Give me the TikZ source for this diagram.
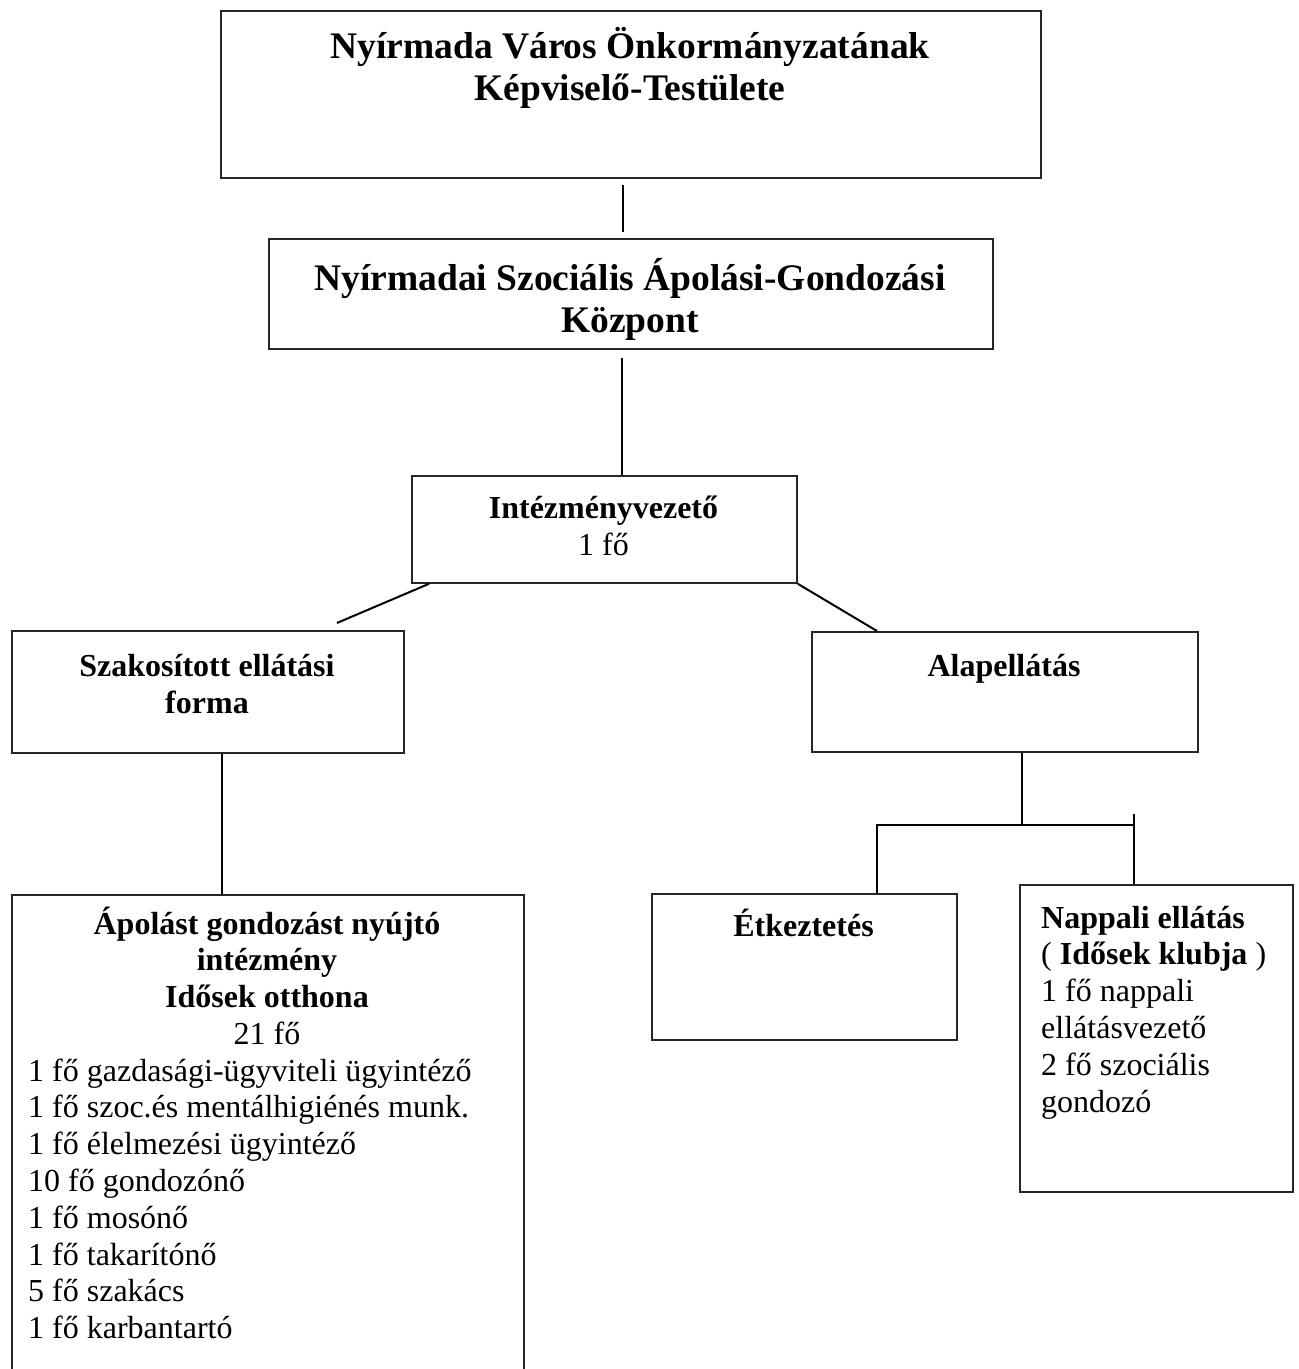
\documentclass[tikz,border=0pt]{standalone}
\usepackage{fontspec}
\setmainfont{Liberation Serif}
\usetikzlibrary{calc}
\begin{document}
\begin{tikzpicture}[x=1pt,y=-1pt,
  box/.style={draw=black!85, line width=1.8pt, inner sep=0pt, anchor=north west},
  conn/.style={draw=black, line width=2pt},
  big/.style={font=\bfseries\fontsize{37.5}{42}\selectfont, inner sep=0pt},
  txt/.style={font=\fontsize{32}{36.8}\selectfont, inner sep=0pt},
  bt/.style={font=\bfseries\fontsize{32}{36.8}\selectfont, inner sep=0pt}]
\useasboundingbox[fill=white] (0,0) rectangle (1299,1369);

% boxes
\node[box, minimum width=820pt, minimum height=167pt] (top) at (220,10) {};
\node[box, minimum width=724pt, minimum height=110pt] (szgk) at (268,238) {};
\node[box, minimum width=385pt, minimum height=107pt] (iv) at (411,475) {};
\node[box, minimum width=392pt, minimum height=122pt] (szak) at (11,630) {};
\node[box, minimum width=386pt, minimum height=120pt] (alap) at (811,631) {};
\node[box, minimum width=512pt, minimum height=490pt] (apol) at (11,894) {};
\node[box, minimum width=305pt, minimum height=146pt] (etk) at (651,893) {};
\node[box, minimum width=273pt, minimum height=307pt] (napp) at (1019,884) {};

% texts (anchor base = baseline of the last line)
\node[big, anchor=base, align=center] (topt) at (630,100)
  {Nyírmada Város Önkormányzatának\\Képviselő-Testülete};
\node[big, anchor=base, align=center] (szgkt) at (630,332)
  {Nyírmadai Szociális Ápolási-Gondozási\\Központ};
\node[txt, anchor=base, align=center] (ivt) at (603.5,555)
  {\textbf{Intézményvezető}\\1 fő};
\node[bt, anchor=base, align=center] (szakt) at (207,713)
  {Szakosított ellátási\\forma};
\node[bt, anchor=base, align=center] (alapt) at (1004,676) {Alapellátás};
\node[bt, anchor=base, align=center] (etkt) at (803.5,936) {Étkeztetés};
\node[txt, anchor=base, align=center] (apolt) at (267,1044.4)
  {\textbf{Ápolást gondozást nyújtó}\\\textbf{intézmény}\\\textbf{Idősek otthona}\\21 fő};
\node[txt, anchor=base west, align=left] (apoll) at (28,1338.6)
  {1 fő gazdasági-ügyviteli ügyintéző\\1 fő szoc.és mentálhigiénés munk.\\1 fő élelmezési ügyintéző\\10 fő gondozónő\\1 fő mosónő\\1 fő takarítónő\\5 fő szakács\\1 fő karbantartó};
\node[txt, anchor=base west, align=left] (nappt) at (1041,1112)
  {\textbf{Nappali ellátás}\\( \textbf{Idősek klubja} )\\1 fő nappali\\ellátásvezető\\2 fő szociális\\gondozó};

% connectors
\coordinate (a1) at ($(top.south)+(-8,6)$);
\coordinate (a2) at ($(szgk.north)+(-8,-6)$);
\draw[conn] (a1) -- (a2);
\coordinate (b1) at ($(szgk.south)+(-9,8)$);
\coordinate (b2) at (b1 |- iv.north);
\draw[conn] (b1) -- (b2);
\draw[conn] ($(iv.south west)+(18,0)$) -- ($(szak.north)+(129,-7)$);
\draw[conn] (iv.south east) -- ($(alap.north west)+(66,0)$);
\coordinate (c1) at ($(szak.south)+(14,0)$);
\coordinate (c2) at (c1 |- apol.north);
\draw[conn] (c1) -- (c2);
\coordinate (d1) at ($(alap.south)+(17,0)$);
\coordinate (d2) at ($(d1)+(0,72)$);
\draw[conn] (d1) -- (d2);
\coordinate (e1) at ($(etk.north)+(72.5,0)$);
\coordinate (n1) at ($(napp.north)+(-22.5,0)$);
\coordinate (h1) at (e1 |- d2);
\coordinate (h2) at (n1 |- d2);
\coordinate (n2) at ($(h2)+(0,-11)$);
\draw[conn] (e1) -- (h1) -- (h2);
\draw[conn] (n2) -- (n1);
\end{tikzpicture}
\end{document}
